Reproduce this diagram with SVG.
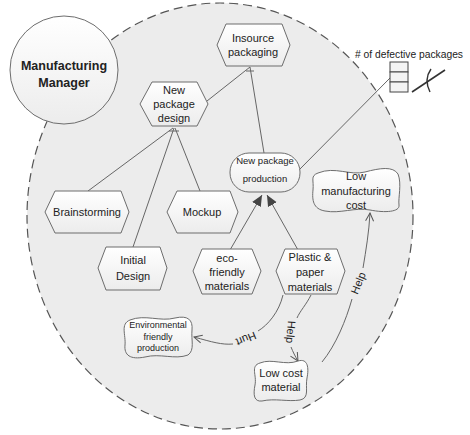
<svg xmlns="http://www.w3.org/2000/svg" width="470" height="435" viewBox="0 0 470 435">
<defs>
<linearGradient id="g" x1="0" y1="0" x2="0" y2="1"><stop offset="0" stop-color="#ffffff"/><stop offset="1" stop-color="#ececec"/></linearGradient>
<marker id="tri" markerUnits="userSpaceOnUse" markerWidth="12" markerHeight="12" viewBox="0 0 12 12" refX="11" refY="6" orient="auto"><path d="M0,1 L11,6 L0,11 z" fill="#444"/></marker>
<marker id="open" markerUnits="userSpaceOnUse" markerWidth="10" markerHeight="10" viewBox="0 0 10 10" refX="9" refY="5" orient="auto"><path d="M1,1 L9,5 L1,9" fill="none" stroke="#555" stroke-width="1"/></marker>
</defs>
<style>
.bg{fill:#ececec;stroke:#555;stroke-width:1.2;stroke-dasharray:9 5}
.n{fill:url(#g);stroke:#6d6d6d;stroke-width:1}
.t{font-family:"Liberation Sans",Arial,sans-serif;font-size:11px;fill:#222;text-anchor:middle}
.s{font-size:9px}
.m{font-size:9.5px}
.c{fill:none;stroke:#666;stroke-width:1}
.lbl{font-family:"Liberation Sans",Arial,sans-serif;font-size:11px;fill:#222;text-anchor:middle}
</style>
<rect width="470" height="435" fill="#fff"/>
<ellipse class="bg" cx="220" cy="216" rx="193" ry="213"/>
<g id="manager">
<circle cx="64" cy="70" r="54" fill="url(#g)" stroke="#6d6d6d"/>
<text class="t" x="64" y="70" style="font-weight:bold;font-size:12.5px">Manufacturing</text>
<text class="t" x="64" y="87" style="font-weight:bold;font-size:12.5px">Manager</text>
</g>
<g id="connectors">
<path class="c" d="M207,101 L250,67"/>
<path class="c" d="M264,153 L250,67"/>
<path class="c" d="M246,71 L254,71"/>
<path class="c" d="M88,191 L173,128"/>
<path class="c" d="M133,247 L174,128"/>
<path class="c" d="M200,191 L175,128"/>
<path class="c" d="M169,131 L179,131"/>
<path class="c" d="M230,250 L262,195" marker-end="url(#tri)"/>
<path class="c" d="M298,250 L267,195" marker-end="url(#tri)"/>
<path class="c" d="M299,170 L390,78"/>
<path class="c" d="M283,295 C279,312 268,325 258,331"/>
<path class="c" d="M233,344 C222,345 212,342 194,337" marker-end="url(#open)"/>
<text class="lbl" transform="translate(246,339) rotate(158)" y="4">Hurt</text>
<path class="c" d="M311,295 C306,305 300,311 297,318"/>
<path class="c" d="M291,347 C293,352 295,356 298,361" marker-end="url(#open)"/>
<text class="lbl" transform="translate(291,332) rotate(95)" y="4">Help</text>
<path class="c" d="M322,362 C336,345 346,320 352,299"/>
<path class="c" d="M363,268 C366,250 369,232 370,213" marker-end="url(#open)"/>
<text class="lbl" transform="translate(358,283) rotate(-68)" y="4">Help</text>
</g>
<g id="insource">
<path class="n" d="M217,45 L226,24 L282,24 L290,45 L282,66 L226,66 Z"/>
<text class="t" x="253" y="42">Insource</text>
<text class="t" x="253" y="56">packaging</text>
</g>
<g id="npd">
<path class="n" d="M140,104 L152,82 L197,82 L208,104 L197,126 L152,126 Z"/>
<text class="t" x="174" y="94">New</text>
<text class="t" x="174" y="108">package</text>
<text class="t" x="174" y="122">design</text>
</g>
<g id="brainstorming">
<path class="n" d="M45,212 L55,191 L121,191 L129,212 L121,233 L55,233 Z"/>
<text class="t" x="87" y="216">Brainstorming</text>
</g>
<g id="mockup">
<path class="n" d="M167,212 L177,191 L230,191 L238,212 L230,233 L177,233 Z"/>
<text class="t" x="202" y="216">Mockup</text>
</g>
<g id="initial">
<path class="n" d="M98,268 L106,247 L160,247 L167,268 L160,290 L106,290 Z"/>
<text class="t" x="133" y="264">Initial</text>
<text class="t" x="133" y="280">Design</text>
</g>
<g id="eco">
<path class="n" d="M193,271 L202,249 L252,249 L261,271 L252,294 L202,294 Z"/>
<text class="t" x="227" y="262">eco-</text>
<text class="t" x="227" y="276">friendly</text>
<text class="t" x="227" y="290">materials</text>
</g>
<g id="plastic">
<path class="n" d="M276,271 L285,249 L337,249 L345,271 L337,294 L285,294 Z"/>
<text class="t" x="310" y="261">Plastic &amp;</text>
<text class="t" x="310" y="276">paper</text>
<text class="t" x="310" y="291">materials</text>
</g>
<g id="npp">
<rect class="n" x="230" y="153" width="70" height="39" rx="19"/>
<text class="t m" x="265" y="164">New package</text>
<text class="t m" x="265" y="182">production</text>
</g>
<g id="lowmfg">
<path class="n" d="M318,173 C335,166 350,176 365,172 C380,168 393,166 398,174 C402,184 398,198 399,205 C400,212 385,213 370,210 C355,207 340,214 325,211 C313,209 312,200 313,190 C314,180 310,176 318,173 Z"/>
<text class="t" x="356" y="180">Low</text>
<text class="t" x="356" y="195">manufacturing</text>
<text class="t" x="356" y="209">cost</text>
</g>
<g id="env">
<path class="n" d="M130,320 C145,314 160,322 175,318 C188,315 193,320 192,330 C191,340 195,350 188,355 C175,360 160,353 145,357 C130,360 124,355 125,345 C126,335 120,324 130,320 Z"/>
<text class="t s" x="158" y="328">Environmental</text>
<text class="t s" x="158" y="340">friendly</text>
<text class="t s" x="158" y="351">production</text>
</g>
<g id="lowcost">
<path class="n" d="M260,363 C272,358 285,366 298,361 C308,358 309,368 307,378 C305,388 310,398 300,400 C288,402 275,398 262,401 C254,402 253,395 255,385 C257,375 250,366 260,363 Z"/>
<text class="t" x="281" y="377">Low cost</text>
<text class="t" x="281" y="391">material</text>
</g>
<g id="defective">
<text class="t" x="355" y="58" style="text-anchor:start" textLength="108" lengthAdjust="spacingAndGlyphs"># of defective packages</text>
<rect x="390" y="62" width="18" height="10" fill="#f4f4f4" stroke="#444"/>
<rect x="390" y="72" width="18" height="10" fill="#f4f4f4" stroke="#444"/>
<rect x="390" y="82" width="18" height="10" fill="#f4f4f4" stroke="#444"/>
<path d="M412,92 L445,70" fill="none" stroke="#333" stroke-width="1.6"/>
<path d="M431,69 C426,76 426,84 430,92" fill="none" stroke="#333" stroke-width="1.4"/>
</g>
</svg>
